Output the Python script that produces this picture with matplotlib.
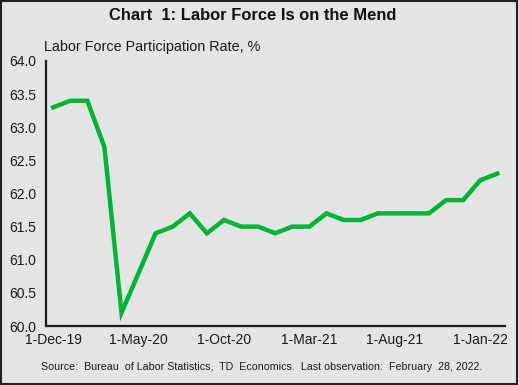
import matplotlib
matplotlib.use("Agg")
import matplotlib.pyplot as plt
from matplotlib.patches import Rectangle

plt.rcParams['font.family'] = ['Liberation Sans', 'DejaVu Sans']

months = ["Dec-19", "Jan-20", "Feb-20", "Mar-20", "Apr-20", "May-20", "Jun-20", "Jul-20",
          "Aug-20", "Sep-20", "Oct-20", "Nov-20", "Dec-20", "Jan-21", "Feb-21", "Mar-21",
          "Apr-21", "May-21", "Jun-21", "Jul-21", "Aug-21", "Sep-21", "Oct-21", "Nov-21",
          "Dec-21", "Jan-22", "Feb-22"]
rate = [63.3, 63.4, 63.4, 62.7, 60.2, 60.8, 61.4, 61.5, 61.7, 61.4, 61.6, 61.5, 61.5,
        61.4, 61.5, 61.5, 61.7, 61.6, 61.6, 61.7, 61.7, 61.7, 61.7, 61.9, 61.9, 62.2, 62.3]
tick_idx = [0, 5, 10, 15, 20, 25]
tick_labels = ["1-Dec-19", "1-May-20", "1-Oct-20", "1-Mar-21", "1-Aug-21", "1-Jan-22"]
yticks = [60.0, 60.5, 61.0, 61.5, 62.0, 62.5, 63.0, 63.5, 64.0]

bg = "#e4e4e4"
fig = plt.figure(figsize=(5.19, 3.85), dpi=100, facecolor=bg)
fig.patches.append(Rectangle((0.002, 0.003), 0.995, 0.994, transform=fig.transFigure,
                             fill=False, edgecolor="#222222", linewidth=1.5))

ax = fig.add_axes([46/519, 1 - 326/385, (505 - 46)/519, (326 - 61)/385])
ax.set_facecolor(bg)
x = list(range(len(rate)))
ax.plot(x, rate, color="#00b533", linewidth=3.2, solid_joinstyle="miter")

ax.set_xlim(-0.42, len(rate) - 1 + 0.45)
ax.set_ylim(60.0, 64.0)
ax.set_yticks(yticks)
ax.set_yticklabels([f"{v:.1f}" for v in yticks])
ax.set_xticks(tick_idx)
ax.set_xticklabels(tick_labels)
ax.tick_params(axis='both', length=0, labelsize=10, colors="#1a1a1a")
ax.tick_params(axis='y', pad=7)
ax.tick_params(axis='x', pad=5)
for s in ["top", "right"]:
    ax.spines[s].set_visible(False)
for s in ["left", "bottom"]:
    ax.spines[s].set_color("#1a1a1a")
    ax.spines[s].set_linewidth(1.6)

fig.text(253/519, 1 - 15/385, "Chart  1: Labor Force Is on the Mend", ha="center", va="center",
         fontsize=11.9, fontweight="bold", color="#111111")
fig.text(44/519, 1 - 47/385, "Labor Force Participation Rate, %", ha="left", va="center",
         fontsize=10.4, color="#1a1a1a")
fig.text(262/519, 1 - 367/385,
         "Source:  Bureau  of Labor Statistics,  TD  Economics.  Last observation:  February  28, 2022.",
         ha="center", va="center", fontsize=7.7, color="#1a1a1a")

fig.savefig("out.png", dpi=100, facecolor=bg)
